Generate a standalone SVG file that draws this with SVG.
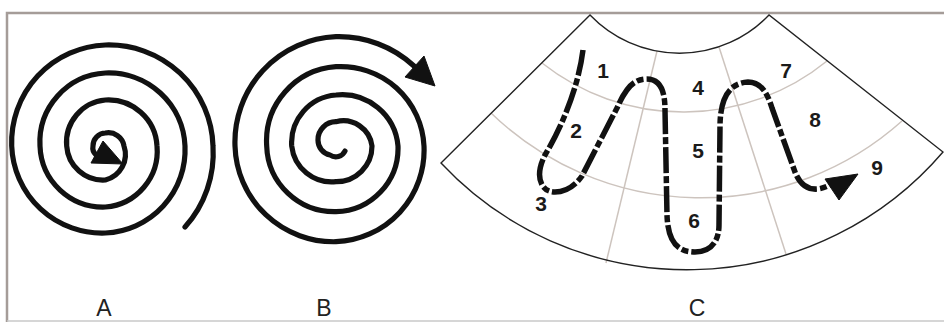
<svg xmlns="http://www.w3.org/2000/svg" width="944" height="322" viewBox="0 0 944 322">
<style>
.spiral{fill:none;stroke:#111;stroke-width:5.2;stroke-linecap:round;stroke-linejoin:round}
.head{fill:#111;stroke:#111;stroke-width:1;stroke-linejoin:round}
.grid{fill:none;stroke:#cdc4be;stroke-width:1.5}
.edge{fill:none;stroke:#222;stroke-width:1.4}
.route{fill:none;stroke:#111;stroke-width:5.5;stroke-dasharray:26 3 7 3;stroke-linecap:butt;stroke-linejoin:round}
.num{font-family:"Liberation Sans",Arial,sans-serif;font-weight:bold;font-size:21px;fill:#1a1a1a;text-anchor:middle}
.lbl{font-family:"Liberation Sans",Arial,sans-serif;font-size:23px;fill:#222;text-anchor:middle}
</style>
<rect x="0" y="0" width="944" height="322" fill="#ffffff"/>
<g id="frame">
<path d="M944 13 H7 V322" fill="none" stroke="#a59c98" stroke-width="2.5"/>
<path d="M7 321 H944" fill="none" stroke="#c8c8c8" stroke-width="1.5"/>
</g>
<g id="spiral-a">
<path class="spiral" d="M96 155 Q92 151 93 146 A12.7 12.7 0 0 1 105.4 133 A15.8 15.8 0 0 1 124 146 A26.3 26.3 0 0 1 105.4 180 A36.4 36.4 0 0 1 66.7 146 A42.4 42.4 0 0 1 105.4 100 A48.8 48.8 0 0 1 157 146 A56.3 56.3 0 0 1 105.4 207 A63.2 63.2 0 0 1 40 146 A69.2 69.2 0 0 1 105.4 73 A76.3 76.3 0 0 1 185 146 A83.3 83.3 0 0 1 105.4 233 A90.4 90.4 0 0 1 11.7 146 A97.4 97.4 0 0 1 105.4 45 A104.3 104.3 0 0 1 213 146 A110.6 110.6 0 0 1 185 227"/>
<polygon class="head" points="91,163 103,141 123,164"/>
</g>
<g id="spiral-b">
<path class="spiral" d="M345 151 A10 10 0 0 1 330 155 A15 15 0 0 1 318 140 A18 18 0 0 1 336 121.7 A29 29 0 0 1 372 146 A35.6 35.6 0 0 1 336 181.7 A40.3 40.3 0 0 1 291.7 146 A47.9 47.9 0 0 1 336 95 A56.3 56.3 0 0 1 398 146 A63.6 63.6 0 0 1 336 211.7 A67.8 67.8 0 0 1 266.7 146 A74.6 74.6 0 0 1 336 66.7 A83.4 83.4 0 0 1 424 146 A91.6 91.6 0 0 1 336 241.7 A98.6 98.6 0 0 1 235 146 A105.4 105.4 0 0 1 336 36.7 A110.5 110.5 0 0 1 414 66"/>
<polygon class="head" points="405,77 424,56 435,86"/>
</g>
<g id="sector-c">
<path class="grid" d="M657 51 L606 263"/>
<path class="grid" d="M719 47 L786 254"/>
<path class="grid" d="M542 63 A228 228 0 0 0 827 61"/>
<path class="grid" d="M491 113 A302 302 0 0 0 902 121"/>
<path class="edge" d="M590 15 A124 124 0 0 0 769 15 L943 152 A337 337 0 0 1 441 163 Z"/>
</g>
<g id="connectors">
<path class="route" d="M583 50 C578 90 560 130 545 155 C536 172 538 192 555 192 C565 192 575 186 582 176 L617 108 C625 90 632 80 645 79 C660 78 665 90 665 110 L667 215 C668 245 680 252 695 252 C712 252 719 240 719 225 L720 127 C720 100 728 83 748 82 C762 82 768 95 772 108 L795 172 C800 185 808 190 818 189 C824 188 828 186 832 184"/>
<polygon class="head" points="825,179 839,200 858,174"/>
</g>
<g id="numbers">
<text class="num" x="603" y="78">1</text>
<text class="num" x="576" y="138">2</text>
<text class="num" x="541" y="211">3</text>
<text class="num" x="698" y="95">4</text>
<text class="num" x="698" y="158">5</text>
<text class="num" x="694" y="228">6</text>
<text class="num" x="786" y="78">7</text>
<text class="num" x="815" y="127">8</text>
<text class="num" x="877" y="175">9</text>
</g>
<g id="labels">
<text class="lbl" x="104" y="316">A</text>
<text class="lbl" x="324" y="316">B</text>
<text class="lbl" x="697" y="316">C</text>
</g>
</svg>
